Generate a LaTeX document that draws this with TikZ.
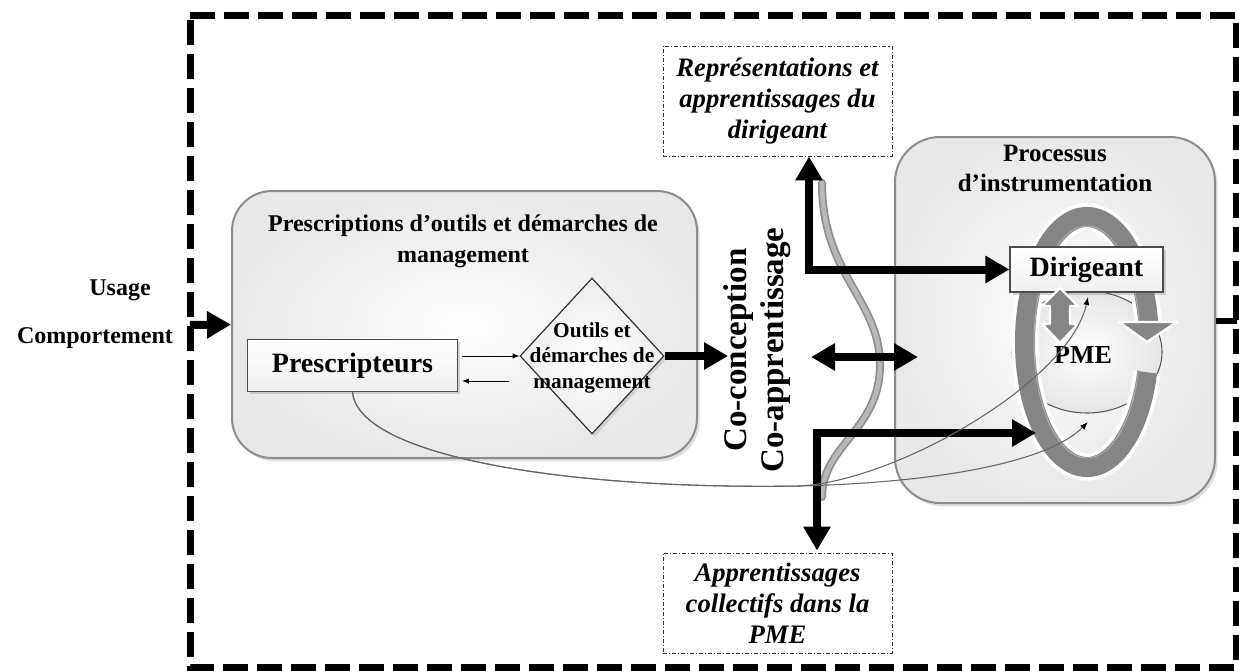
\documentclass[tikz,border=0pt]{standalone}
\usepackage{fontspec}
\setmainfont{Liberation Serif}
\usetikzlibrary{shapes.geometric,arrows.meta,calc,shadows}
\begin{document}
\begin{tikzpicture}[x=0.75pt,y=-0.75pt,
  txt/.style={font=\bfseries\fontsize{18}{23.25}\selectfont, align=center, inner sep=0pt},
  itxt/.style={font=\bfseries\itshape\fontsize{20}{23.25}\selectfont, align=center, inner sep=0pt},
  bigarrow/.style={line width=6pt, -{Triangle[length=18pt,width=19.5pt]}},
  bigdarrow/.style={line width=6pt, {Triangle[length=18pt,width=19.5pt]}-{Triangle[length=18pt,width=19.5pt]}},
  thinarr/.style={line width=0.75pt, -{Latex[length=5pt,width=4pt]}},
  curvearr/.style={line width=0.8pt, draw=black!60, -{Latex[length=6pt,width=4.5pt,black]}},
  rbox/.style={draw=black!45, line width=1.5pt, shading=radial, inner color=white, outer color=black!9, inner sep=0pt,
     drop shadow={shadow xshift=2pt, shadow yshift=-2.5pt, opacity=0.25}},
  wbox/.style={draw=black!70, line width=0.9pt, top color=white, bottom color=black!6, inner sep=0pt,
     drop shadow={shadow xshift=2pt, shadow yshift=-2pt, opacity=0.3}},
  dbox/.style={draw=black!80, line width=0.7pt, dash pattern=on 3pt off 1.5pt on 0.8pt off 1.5pt, inner sep=0pt}
]
\useasboundingbox (0,0) rectangle (1239,671);

% outer dashed frame
\draw[line width=5.25pt, dash pattern=on 18.75pt off 6.75pt] (190,15) -- (1236,15) -- (1236,667) -- (190,667) -- cycle;

% left labels
\node[txt] (usage) at (120,290) {Usage};
\node[txt] (comp) at (95,338) {Comportement};
\coordinate (inarrow) at (190,325);

% left box
\node[rbox, rounded corners=30pt, minimum width=348.75pt, minimum height=200.25pt] (left) at (464.5,324.5) {};
\node[txt] (ltitle) at (463,241) {Prescriptions d’outils et démarches de\\management};
\node[wbox, minimum width=157.5pt, minimum height=39pt, font=\bfseries\fontsize{21}{24}\selectfont] (presc) at (352.5,365.5) {Prescripteurs};
\node[diamond, draw=black!80, line width=0.9pt, shading=radial, inner color=white, outer color=black!7, minimum width=108pt, minimum height=117pt, inner sep=0pt, aspect=0.92,
  drop shadow={shadow xshift=2pt, shadow yshift=-2pt, opacity=0.25}] (outils) at (592,356) {};
\node[txt, font=\bfseries\fontsize{16}{19.1}\selectfont] (outilstxt) at (592,357.5) {Outils et\\démarches de\\management};

\draw[bigarrow] (inarrow) -- (left.west);
\draw[thinarr] ($(presc.east)+(4,-9.5)$) -- (outils.west);
\draw[thinarr] ($(outils.west)+(-10,25)$) -- ($(presc.east)+(4,15.5)$);
\coordinate (ccin) at (728,356);
\draw[bigarrow] (outils.east) -- (ccin);

% co-conception texts
\node[txt, font=\bfseries\fontsize{24.75}{28}\selectfont, rotate=90] (coconc) at (739,350) {Co-conception};
\node[txt, font=\bfseries\fontsize{24.75}{28}\selectfont, rotate=90] (coappr) at (776,350) {Co-apprentissage};

% wave
\draw[line width=6pt, black!45, line cap=round] (822,183) .. controls (822,275) and (880,300) .. (880,365) .. controls (880,430) and (822,445) .. (822,497);
\draw[line width=3.5pt, black!28, line cap=round] (822,183) .. controls (822,275) and (880,300) .. (880,365) .. controls (880,430) and (822,445) .. (822,497);

% right box
\node[rbox, rounded corners=33.75pt, minimum width=240pt, minimum height=274.5pt] (right) at (1055,320) {};
\node[txt, font=\bfseries\fontsize{18.75}{22.5}\selectfont] (rtitle) at (1055,168) {Processus\\d’instrumentation};

% PME oval
\node[ellipse, draw=black!65, line width=0.8pt, shading=radial, inner color=white, outer color=black!10, minimum width=112.5pt, minimum height=91.5pt, inner sep=0pt] (pmeoval) at (1087,352) {};

% ring
\draw[line width=20.5pt, white] (1087,342) ++(14:62 and 125) arc[start angle=14, end angle=351, x radius=62, y radius=125];
\draw[line width=15pt, black!48] (1087,342) ++(14:62 and 125) arc[start angle=14, end angle=351, x radius=62, y radius=125];
\draw[line width=0.75pt, black!32] (1087,342) ++(14:53 and 116) arc[start angle=14, end angle=351, x radius=53, y radius=116];
\filldraw[fill=black!48, draw=white, line width=1.8pt, line join=round] (1119,322) -- (1177,322) -- (1147,342) -- cycle;

% Dirigeant
\node[wbox, minimum width=114.75pt, minimum height=33.75pt, font=\bfseries\fontsize{21}{24}\selectfont] (dir) at (1086.5,269.5) {Dirigeant};
\node[txt, font=\bfseries\fontsize{19.5}{22}\selectfont] (pme) at (1083,355) {PME};

% block double arrow
\filldraw[fill=black!48, draw=white, line width=1.8pt, line join=round]
  (1060,288) -- (1078,306) -- (1070,306) -- (1070,324) -- (1078,324) -- (1060,343) -- (1042,324) -- (1050,324) -- (1050,306) -- (1042,306) -- cycle;

\coordinate (rout) at (1237,321);
\draw[line width=4.5pt] (right.east|-rout) -- (rout);

% dash-dot boxes
\node[dbox, minimum width=171.75pt, minimum height=82.5pt] (repbox) at (777.5,101) {};
\node[itxt] (reptxt) at (777.5,101) {Représentations et\\apprentissages du\\dirigeant};
\node[dbox, minimum width=171.75pt, minimum height=75pt] (appbox) at (777.5,603) {};
\node[itxt] (apptxt) at (777.5,603) {Apprentissages\\collectifs dans la\\PME};

% elbow arrows
\coordinate (toptip) at ($(repbox.south)+(31.5,0)$);
\draw[bigdarrow] (toptip) |- (dir.west);
\coordinate (bottip) at ($(appbox.north)+(39.5,-2)$);
\coordinate (pmeleft) at (1036,433);
\draw[bigdarrow] (pmeleft) -| (bottip);

% central double arrow
\coordinate (dl) at (811,357);
\coordinate (dr) at (918,357);
\draw[bigdarrow] (dl) -- (dr);

% thin curves from Prescripteurs
\coordinate (dirbot) at (1088,297);
\coordinate (pmebot) at (1088,422);
\draw[curvearr] (presc.south) .. controls (358,455) and (560,490) .. (800,486) .. controls (900,480) and (1070,380) .. (dirbot);
\draw[curvearr] (presc.south) .. controls (358,455) and (560,490) .. (800,486) .. controls (950,482) and (1050,460) .. (pmebot);

\end{tikzpicture}
\end{document}
